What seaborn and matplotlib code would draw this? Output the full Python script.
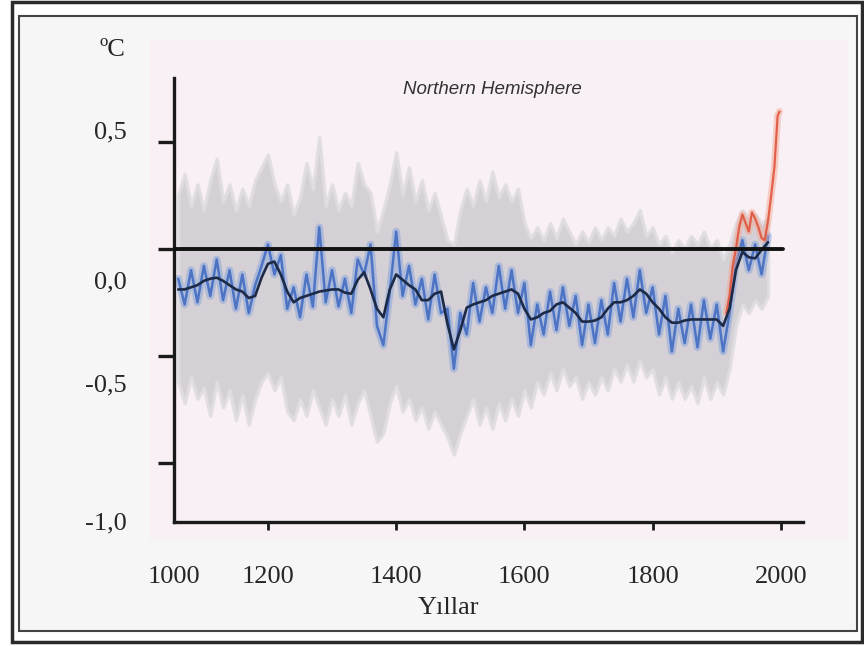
import numpy as np
import pandas as pd
import seaborn as sns
from matplotlib import pyplot as plt
from matplotlib.patches import Rectangle

# reconstruction, 10-year steps
years = list(range(1060, 1990, 10))

smooth = [-0.19, -0.19, -0.18, -0.17, -0.15, -0.14, -0.135, -0.15, -0.17, -0.19,
          -0.20, -0.23, -0.22, -0.135, -0.07, -0.06, -0.12, -0.20, -0.25, -0.23,
          -0.22, -0.21, -0.20, -0.195, -0.19, -0.19, -0.205, -0.21, -0.145, -0.11,
          -0.19, -0.28, -0.32, -0.19, -0.12, -0.145, -0.17, -0.19, -0.24, -0.24,
          -0.21, -0.20, -0.35, -0.47, -0.38, -0.275, -0.26, -0.25, -0.24, -0.22,
          -0.21, -0.20, -0.19, -0.21, -0.28, -0.33, -0.32, -0.30, -0.29, -0.26,
          -0.25, -0.275, -0.30, -0.34, -0.34, -0.335, -0.32, -0.28, -0.25, -0.25,
          -0.24, -0.22, -0.19, -0.21, -0.25, -0.28, -0.32, -0.345, -0.345, -0.335,
          -0.33, -0.33, -0.33, -0.33, -0.33, -0.36, -0.28, -0.10, -0.015, -0.04,
          -0.045, -0.005, 0.03]

raw = [-0.14, -0.26, -0.10, -0.25, -0.08, -0.22, -0.05, -0.24, -0.10, -0.28,
       -0.12, -0.30, -0.17, -0.08, 0.02, -0.12, -0.03, -0.28, -0.18, -0.32,
       -0.12, -0.27, 0.10, -0.25, -0.10, -0.27, -0.14, -0.30, -0.05, -0.12,
       0.02, -0.36, -0.45, -0.20, 0.08, -0.22, -0.08, -0.26, -0.14, -0.33,
       -0.12, -0.30, -0.28, -0.56, -0.30, -0.40, -0.16, -0.34, -0.18, -0.30,
       -0.08, -0.28, -0.10, -0.30, -0.16, -0.45, -0.26, -0.40, -0.20, -0.38,
       -0.18, -0.36, -0.22, -0.45, -0.26, -0.44, -0.24, -0.40, -0.16, -0.34,
       -0.14, -0.32, -0.10, -0.30, -0.18, -0.40, -0.22, -0.48, -0.28, -0.44,
       -0.26, -0.46, -0.24, -0.42, -0.26, -0.48, -0.30, -0.06, 0.04, -0.10,
       0.02, -0.12, 0.06]

upper = [0.25, 0.35, 0.20, 0.30, 0.18, 0.32, 0.42, 0.22, 0.30, 0.18,
         0.28, 0.20, 0.32, 0.38, 0.44, 0.30, 0.22, 0.30, 0.16, 0.24,
         0.40, 0.28, 0.52, 0.20, 0.30, 0.18, 0.26, 0.20, 0.40, 0.30,
         0.26, 0.08, 0.18, 0.30, 0.45, 0.25, 0.38, 0.22, 0.32, 0.18,
         0.26, 0.15, 0.04, 0.02, 0.18, 0.28, 0.20, 0.32, 0.22, 0.36,
         0.24, 0.30, 0.22, 0.28, 0.12, 0.05, 0.10, 0.04, 0.12, 0.05,
         0.14, 0.08, 0.02, 0.08, 0.03, 0.10, 0.04, 0.10, 0.06, 0.14,
         0.08, 0.12, 0.18, 0.06, 0.10, 0.02, 0.06, -0.02, 0.04, 0.00,
         0.06, 0.02, 0.08, 0.00, 0.04, -0.05, 0.02, 0.12, 0.18, 0.14,
         0.16, 0.12, 0.14]

lower = [-0.62, -0.72, -0.60, -0.70, -0.65, -0.78, -0.62, -0.74, -0.66, -0.80,
         -0.68, -0.82, -0.70, -0.62, -0.58, -0.66, -0.60, -0.76, -0.80, -0.70,
         -0.78, -0.66, -0.74, -0.82, -0.70, -0.78, -0.68, -0.82, -0.72, -0.66,
         -0.78, -0.90, -0.86, -0.72, -0.64, -0.76, -0.70, -0.80, -0.74, -0.84,
         -0.76, -0.82, -0.88, -0.96, -0.86, -0.78, -0.70, -0.82, -0.74, -0.84,
         -0.72, -0.80, -0.70, -0.78, -0.66, -0.74, -0.62, -0.68, -0.58, -0.66,
         -0.56, -0.64, -0.60, -0.70, -0.62, -0.68, -0.60, -0.66, -0.56, -0.62,
         -0.54, -0.62, -0.52, -0.60, -0.56, -0.68, -0.60, -0.70, -0.62, -0.70,
         -0.64, -0.72, -0.60, -0.70, -0.62, -0.68, -0.56, -0.36, -0.26, -0.30,
         -0.24, -0.28, -0.22]

# instrumental record
red_years = [1915, 1920, 1925, 1930, 1935, 1940, 1945, 1950, 1955, 1960,
             1965, 1970, 1975, 1980, 1985, 1990, 1995, 1998]
red_vals = [-0.30, -0.22, -0.08, 0.00, 0.10, 0.16, 0.12, 0.08, 0.17, 0.14,
            0.10, 0.05, 0.04, 0.13, 0.25, 0.38, 0.62, 0.64]

# axis marks and labels
y_marks = [0.5, 0.0, -0.5, -1.0]
y_label_pos = [0.554, -0.144, -0.624, -1.27]
y_labels = ['0,5', '0,0', '-0,5', '-1,0']
x_marks = [1200, 1400, 1600, 1800, 2000]
x_labels = ['1000', '1200', '1400', '1600', '1800', '2000']
x_min, x_max = 1053.4, 2034.6
y_min, y_max = -1.275, 0.7965

df = pd.DataFrame({'year': years, 'smooth': smooth, 'raw': raw,
                   'upper': upper, 'lower': lower})
df_red = pd.DataFrame({'year': red_years, 'temp': red_vals})

sns.set_style('white')
plt.rcParams['font.family'] = ['Liberation Serif', 'DejaVu Serif']

W, H = 864, 646
fig = plt.figure(figsize=(W / 100, H / 100), dpi=100)
fig.patch.set_facecolor('white')

# frames and the pale panel behind the plot
fig.patches.append(Rectangle((12 / W, 1 - 642 / H), 850 / W, 640 / H, transform=fig.transFigure,
                             fill=False, lw=2.5, ec='#2b2b2b', zorder=-3))
fig.patches.append(Rectangle((19 / W, 1 - 631 / H), 838 / W, 615 / H, transform=fig.transFigure,
                             fc='#f6f6f6', lw=1.5, ec='#444444', zorder=-2))
fig.patches.append(Rectangle((150 / W, 1 - 540 / H), 698 / W, 500 / H, transform=fig.transFigure,
                             fc='#f8f0f5', lw=0, zorder=-1))

ax = fig.add_axes([174 / W, 1 - 522 / H, 629 / W, 444 / H])
ax.set_facecolor('none')

# uncertainty band with a soft edge
ax.fill_between(df['year'], df['lower'], df['upper'], color='#d0cdd2', alpha=0.9, lw=2.5,
                ec='#e0dde2', zorder=1)
sns.lineplot(data=df, x='year', y='raw', ax=ax, color='#7d9fde', lw=5.5, alpha=0.45, zorder=2)
sns.lineplot(data=df, x='year', y='raw', ax=ax, color='#3563bf', lw=1.8, alpha=0.8, zorder=3)
sns.lineplot(data=df_red, x='year', y='temp', ax=ax, color='#f4a792', lw=5, alpha=0.5, zorder=3)
sns.lineplot(data=df_red, x='year', y='temp', ax=ax, color='#e0553c', lw=1.6, alpha=0.9, zorder=4)
sns.lineplot(data=df, x='year', y='smooth', ax=ax, color='#1c2a47', lw=1.9, zorder=5)
ax.axhline(0, xmin=0, xmax=(783 - 174) / 629, color='#111111', lw=2.8, zorder=6)

ax.set_xlim(x_min, x_max)
ax.set_ylim(y_min, y_max)
for side in ['top', 'right']:
    ax.spines[side].set_visible(False)
for side in ['left', 'bottom']:
    ax.spines[side].set_linewidth(2.4)
    ax.spines[side].set_color('#1a1a1a')

ax.set_yticks(y_marks, minor=True)
ax.set_yticks(y_label_pos, y_labels)
ax.tick_params(axis='y', which='minor', left=True, length=11.5, width=2.4, color='#1a1a1a',
               direction='out')
ax.tick_params(axis='y', which='major', left=True, length=0, pad=34, labelsize=19)

ax.set_xticks([x_min] + x_marks, x_labels)
ax.tick_params(axis='x', which='major', bottom=True, length=6, width=2, color='#1a1a1a',
               direction='out', pad=26, labelsize=19)
ax.xaxis.get_major_ticks()[0].tick1line.set_visible(False)

ax.set_xlabel('Yıllar', fontsize=19)
ax.xaxis.set_label_coords((449 - 174) / 629, (522 - 608) / 444)
ax.xaxis.label.set_va('center')
ax.set_ylabel('ºC', fontsize=19, rotation=0, va='center', ha='center')
ax.yaxis.set_label_coords((112 - 174) / 629, (522 - 50) / 444)

ax.text((492 - 174) / 629, (522 - 89) / 444, 'Northern Hemisphere', transform=ax.transAxes,
        ha='center', va='center', fontsize=13.5, style='italic', color='#333333',
        family=['Liberation Sans', 'DejaVu Sans'])

fig.savefig('out.png', dpi=100)
